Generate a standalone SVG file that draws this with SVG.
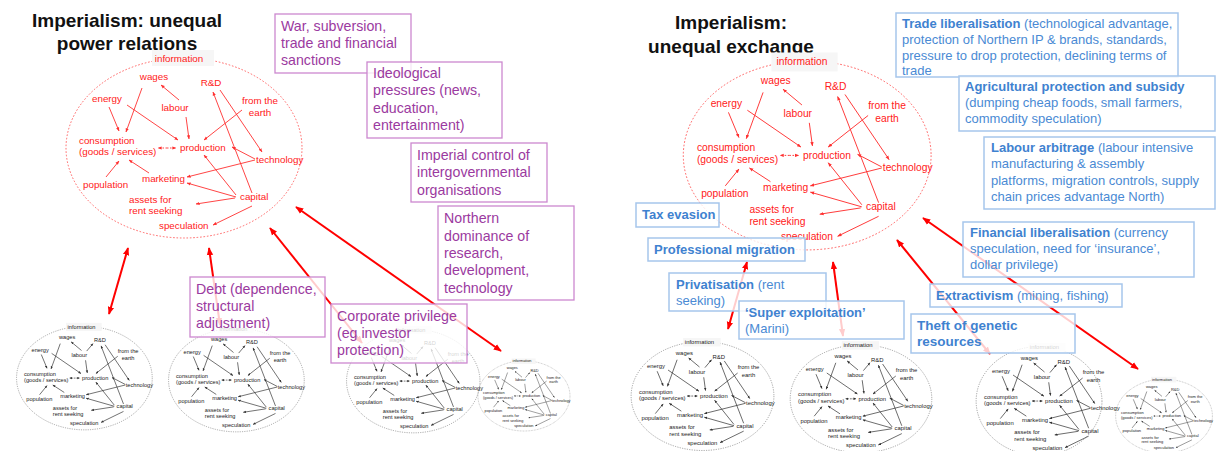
<svg xmlns="http://www.w3.org/2000/svg" xmlns:xlink="http://www.w3.org/1999/xlink" width="1223" height="451" viewBox="0 0 1223 451">
<style>
.gl{font-family:"Liberation Sans",Arial,sans-serif;font-size:9.8px}
.ttl{font-family:"Liberation Sans",Arial,sans-serif;font-size:19px;font-weight:bold;fill:#111;text-anchor:middle}
.lb{font-family:"Liberation Sans",Arial,sans-serif;font-size:14.2px;fill:#9b3aa0}
.lbox{fill:#fff;fill-opacity:0.8;stroke:#cc88cf;stroke-width:1.3}
.rb{font-family:"Liberation Sans",Arial,sans-serif;font-size:13px;fill:#4a8ad4}
.rbox{fill:#fff;fill-opacity:0.8;stroke:#a6c6ec;stroke-width:1.5}
.b{font-weight:bold;fill:#3f82d0}
.conn{stroke:#f00;stroke-width:2;fill:none;marker-start:url(#big);marker-end:url(#big)}
.ell-r{fill:none;stroke:#f55;stroke-width:0.9;stroke-dasharray:1.6 1.8}
.ell-g{fill:none;stroke:#777;stroke-width:1.1;stroke-dasharray:2 2}
.ibg{fill:#f6f6f6}
</style>
<defs>
<marker id="mr" viewBox="0 0 6 6" refX="5.5" refY="3" markerWidth="4" markerHeight="4" markerUnits="userSpaceOnUse" orient="auto"><path d="M0,0.6 L6,3 L0,5.4 z" fill="#ff3030"/></marker>
<marker id="mg" viewBox="0 0 6 6" refX="5.5" refY="3" markerWidth="5" markerHeight="5" markerUnits="userSpaceOnUse" orient="auto"><path d="M0,0.6 L6,3 L0,5.4 z" fill="#333"/></marker>
<marker id="big" viewBox="0 0 10 10" refX="9" refY="5" markerWidth="8" markerHeight="8" markerUnits="userSpaceOnUse" orient="auto-start-reverse"><path d="M0,1 L10,5 L0,9 z" fill="#f00"/></marker>
<g id="lbl" class="gl">
<text x="179" y="62" text-anchor="middle">information</text>
<text x="154" y="80" text-anchor="middle">wages</text>
<text x="211" y="86" text-anchor="middle">R&amp;D</text>
<text x="107" y="102" text-anchor="middle">energy</text>
<text x="175" y="111" text-anchor="middle">labour</text>
<text x="260" y="104" text-anchor="middle">from the</text>
<text x="260" y="116" text-anchor="middle">earth</text>
<text x="79" y="144">consumption</text>
<text x="79" y="155">(goods / services)</text>
<text x="180" y="151">production</text>
<text x="256" y="163">technology</text>
<text x="83" y="188">population</text>
<text x="142" y="182">marketing</text>
<text x="129" y="203">assets for</text>
<text x="129" y="214">rent seeking</text>
<text x="240" y="200">capital</text>
<text x="159" y="229">speculation</text>
</g>
<g id="edges" fill="none">
<path d="M142,88 L126,132"/>
<path d="M109,107 L119,131"/>
<path d="M127,105 L178,140"/>
<path d="M179,100 L161,85"/>
<path d="M186,117 L189,139"/>
<path d="M242,110 L204,140"/>
<path d="M220,90 L262,152"/>
<path d="M252,193 L213,92"/>
<path d="M255,159 L232,147"/>
<path d="M255,160 L187,177"/>
<path d="M236,195 L204,155"/>
<path d="M236,197 L187,183"/>
<path d="M235,198 L196,204"/>
<path d="M252,206 L213,225"/>
<path d="M106,177 L119,161"/>
<path d="M149,173 L129,160"/>
<path d="M167,148 L158,148" stroke-dasharray="1.5 1.5"/>
<path d="M167,148 L176,148" stroke-dasharray="1.5 1.5"/>
</g>
<g id="gGrey">
<rect class="ibg" x="152" y="52" width="62" height="14"/>
<use xlink:href="#edges" stroke="#333" stroke-width="1.2" marker-end="url(#mg)"/>
<path d="M188,101 L199,88" fill="none" stroke="#333" stroke-width="1.2" marker-end="url(#mg)"/>
<use xlink:href="#lbl" fill="#222"/>
</g>
</defs>

<rect width="1223" height="451" fill="#fff"/>

<g id="title-left"><text class="ttl" x="127" y="27">Imperialism: unequal</text><text class="ttl" x="127" y="50">power relations</text></g>
<g id="title-right"><text class="ttl" x="731" y="29">Imperialism:</text><text class="ttl" x="731" y="53">unequal exchange</text></g>

<g id="graph-left-main">
<ellipse class="ell-r" cx="184" cy="148" rx="118" ry="90"/>
<rect class="ibg" x="152" y="50" width="62" height="16"/>
<use xlink:href="#edges" stroke="#ff3030" stroke-width="0.9" marker-end="url(#mr)"/>
<use xlink:href="#lbl" fill="#ff2020"/>
</g>
<g id="graph-right-main" transform="translate(614,0) scale(1.05)">
<ellipse class="ell-r" cx="184" cy="148" rx="118" ry="90"/>
<rect class="ibg" x="150" y="50" width="63" height="18"/>
<use xlink:href="#edges" stroke="#ff3030" stroke-width="0.9" marker-end="url(#mr)"/>
<use xlink:href="#lbl" fill="#ff2020"/>
</g>

<g id="copy-l1" transform="translate(-21.4,293) scale(0.575)"><ellipse class="ell-g" cx="184" cy="148" rx="118" ry="90"/><use xlink:href="#gGrey"/></g>
<g id="copy-l2" transform="translate(130.6,295) scale(0.575)"><ellipse class="ell-g" cx="184" cy="148" rx="118" ry="90"/><use xlink:href="#gGrey"/></g>
<g id="copy-l3" transform="translate(308.6,296) scale(0.575)"><ellipse class="ell-g" cx="182" cy="148" rx="116" ry="90"/><use xlink:href="#gGrey"/></g>
<g id="copy-l4" transform="translate(452.2,338.2) scale(0.39)"><ellipse class="ell-g" cx="184" cy="148" rx="118" ry="90"/><use xlink:href="#gGrey"/></g>
<g id="copy-r1" transform="translate(591.2,306.5) scale(0.605)"><ellipse class="ell-g" cx="184" cy="148" rx="118" ry="90"/><use xlink:href="#gGrey"/></g>
<g id="copy-r2" transform="translate(750.6,310) scale(0.6)"><ellipse class="ell-g" cx="184" cy="148" rx="118" ry="90"/><use xlink:href="#gGrey"/></g>
<g id="copy-r3" transform="translate(936.2,311.5) scale(0.605)"><ellipse class="ell-g" cx="170" cy="148" rx="104" ry="90"/><use xlink:href="#gGrey"/></g>
<g id="copy-r4" transform="translate(1088.6,355.4) scale(0.41)"><ellipse class="ell-g" cx="184" cy="148" rx="118" ry="90"/><use xlink:href="#gGrey"/></g>

<g id="connectors">
<path class="conn" d="M128,248 L109,314"/>
<path class="conn" d="M209,248 L220,325"/>
<path class="conn" d="M270,228 L362,343"/>
<path class="conn" d="M296,207 L501,351"/>
<path class="conn" d="M747,262 L728,329"/>
<path class="conn" d="M833,262 L843,336"/>
<path class="conn" d="M897,240 L990,354"/>
<path class="conn" d="M923,218 L1138,369"/>
</g>

<g id="box-war"><rect class="lbox" x="275" y="14" width="136" height="59"/><text class="lb" x="281"><tspan x="281" y="31">War, subversion,</tspan><tspan x="281" y="48">trade and financial</tspan><tspan x="281" y="65">sanctions</tspan></text></g>
<g id="box-ideo"><rect class="lbox" x="367" y="62" width="135" height="76"/><text class="lb"><tspan x="373" y="78">Ideological</tspan><tspan x="373" y="95">pressures (news,</tspan><tspan x="373" y="113">education,</tspan><tspan x="373" y="130">entertainment)</tspan></text></g>
<g id="box-imperial"><rect class="lbox" x="411" y="143" width="136" height="59"/><text class="lb"><tspan x="417" y="160">Imperial control of</tspan><tspan x="417" y="177">intergovernmental</tspan><tspan x="417" y="195">organisations</tspan></text></g>
<g id="box-northern"><rect class="lbox" x="438" y="206" width="136" height="94"/><text class="lb"><tspan x="444" y="223">Northern</tspan><tspan x="444" y="241">dominance of</tspan><tspan x="444" y="258">research,</tspan><tspan x="444" y="275">development,</tspan><tspan x="444" y="293">technology</tspan></text></g>
<g id="box-debt"><rect class="lbox" x="190" y="277" width="135" height="60"/><text class="lb"><tspan x="196" y="294">Debt (dependence,</tspan><tspan x="196" y="311">structural</tspan><tspan x="196" y="328">adjustment)</tspan></text></g>
<g id="box-corp"><rect class="lbox" x="331" y="304" width="136" height="59"/><text class="lb"><tspan x="337" y="321">Corporate privilege</tspan><tspan x="337" y="338">(eg investor</tspan><tspan x="337" y="355">protection)</tspan></text></g>

<g id="box-trade"><rect class="rbox" x="896" y="13" width="282" height="64"/><text class="rb"><tspan x="902" y="28"><tspan class="b">Trade liberalisation</tspan> (technological advantage,</tspan><tspan x="902" y="44">protection of Northern IP &amp; brands, standards,</tspan><tspan x="902" y="60">pressure to drop protection, declining terms of</tspan><tspan x="902" y="75">trade</tspan></text></g>
<g id="box-agri"><rect class="rbox" x="959" y="76" width="256" height="55"/><text class="rb"><tspan x="965" y="91" class="b">Agricultural protection and subsidy</tspan><tspan x="965" y="107">(dumping cheap foods, small farmers,</tspan><tspan x="965" y="123">commodity speculation)</tspan></text></g>
<g id="box-labour"><rect class="rbox" x="984" y="137" width="231" height="72"/><text class="rb"><tspan x="991" y="152"><tspan class="b">Labour arbitrage</tspan> (labour intensive</tspan><tspan x="991" y="168">manufacturing &amp; assembly</tspan><tspan x="991" y="185">platforms, migration controls, supply</tspan><tspan x="991" y="201">chain prices advantage North)</tspan></text></g>
<g id="box-fin"><rect class="rbox" x="963" y="222" width="231" height="55"/><text class="rb"><tspan x="970" y="237"><tspan class="b">Financial liberalisation</tspan> (currency</tspan><tspan x="970" y="253">speculation, need for ‘insurance’,</tspan><tspan x="970" y="269">dollar privilege)</tspan></text></g>
<g id="box-extr"><rect class="rbox" x="930" y="284" width="192" height="23"/><text class="rb" x="936" y="300"><tspan class="b">Extractivism</tspan> (mining, fishing)</text></g>
<g id="box-theft"><rect class="rbox" x="911" y="314" width="164" height="39"/><text class="rb b" style="font-size:13.5px"><tspan x="917" y="330">Theft of genetic</tspan><tspan x="917" y="346">resources</tspan></text></g>
<g id="box-tax"><rect class="rbox" x="636" y="203" width="83" height="24"/><text class="rb b" x="642" y="219">Tax evasion</text></g>
<g id="box-prof"><rect class="rbox" x="648" y="238" width="157" height="23"/><text class="rb b" x="654" y="254">Professional migration</text></g>
<g id="box-priv"><rect class="rbox" x="669" y="273" width="157" height="38"/><text class="rb"><tspan x="676" y="289"><tspan class="b">Privatisation</tspan> (rent</tspan><tspan x="676" y="305">seeking)</tspan></text></g>
<g id="box-super"><rect class="rbox" x="739" y="301" width="165" height="38"/><text class="rb"><tspan x="745" y="317" class="b">‘Super exploitation’</tspan><tspan x="745" y="333">(Marini)</tspan></text></g>
</svg>
